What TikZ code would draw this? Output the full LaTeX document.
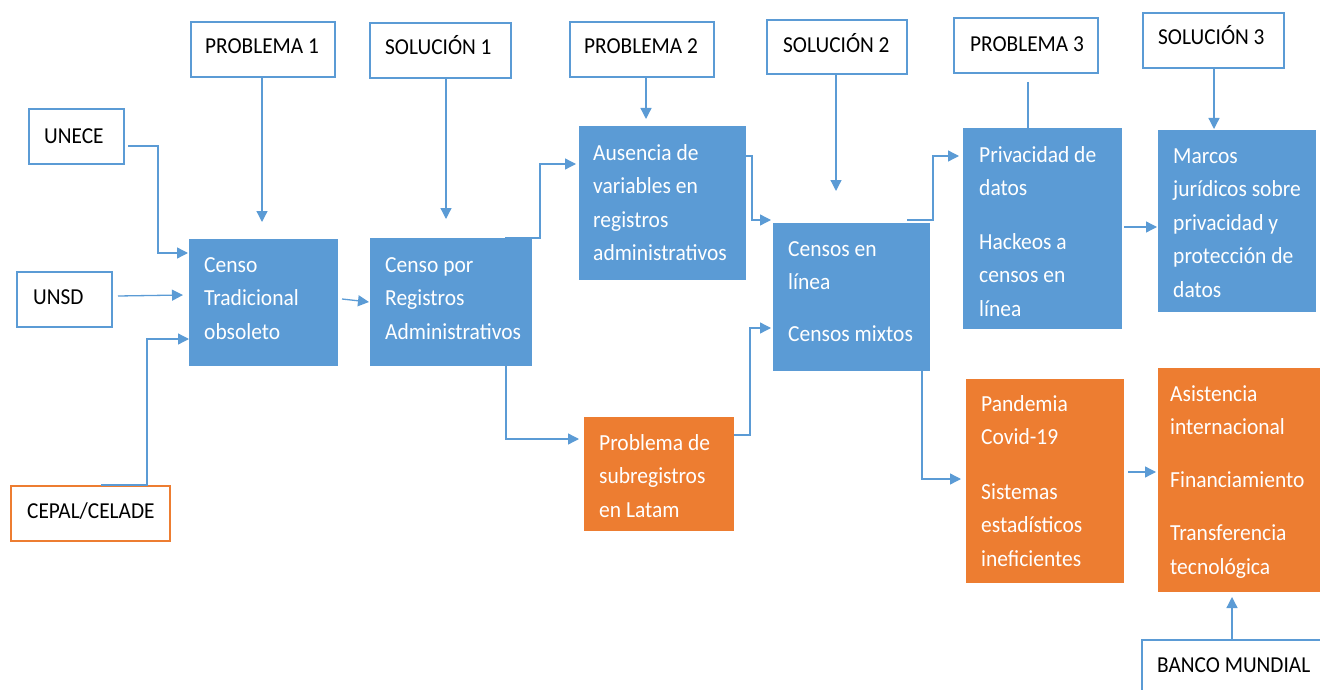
\documentclass[tikz,border=0pt]{standalone}
\usepackage{fontspec}
\setmainfont{Carlito}[FakeStretch=0.935]
\usetikzlibrary{arrows.meta,calc}
\definecolor{obl}{HTML}{5B9BD5}
\definecolor{oor}{HTML}{ED7D31}
\tikzset{
  wbox/.style={draw=obl, line width=1.3pt, fill=white, inner sep=0pt, outer sep=0pt},
  wobox/.style={draw=oor, line width=1.3pt, fill=white, inner sep=0pt, outer sep=0pt},
  bbox/.style={fill=obl, inner sep=0pt, outer sep=0pt},
  obox/.style={fill=oor, inner sep=0pt, outer sep=0pt},
  wtxt/.style={anchor=base west, inner sep=0pt, text=black, font=\fontsize{22.8}{26}\selectfont},
  btxt/.style={anchor=north west, inner sep=0pt, align=left, text=white, font=\fontsize{23}{33.5}\selectfont},
  arr/.style={draw=obl, line width=1.3pt, -{Triangle[length=11pt,width=11pt]}},
  ln/.style={draw=obl, line width=1.3pt},
}
\begin{document}
\begin{tikzpicture}[x=1pt,y=-1pt]
\useasboundingbox (0,0) rectangle (1320,690);
\clip (0,0) rectangle (1320,690);
% white boxes
\node[wbox, minimum width=144, minimum height=55] (p1) at (263,49.5) {};
\node[wbox, minimum width=141, minimum height=55] (s1) at (440.5,50.5) {};
\node[wbox, minimum width=144, minimum height=55] (p2) at (642,49.5) {};
\node[wbox, minimum width=140, minimum height=54] (s2) at (837,47) {};
\node[wbox, minimum width=144, minimum height=55] (p3) at (1026,45.5) {};
\node[wbox, minimum width=141, minimum height=55] (s3) at (1213.5,40.5) {};
\node[wbox, minimum width=95, minimum height=55] (unece) at (76.5,136.5) {};
\node[wbox, minimum width=95, minimum height=55] (unsd) at (64.5,299.5) {};
\node[wobox, minimum width=159, minimum height=55] (cepal) at (90.5,513.5) {};
\node[wbox, minimum width=188, minimum height=60] (banco) at (1236,670) {};
\node[wtxt] (p1t) at (205,54) {PROBLEMA 1};
\node[wtxt] (s1t) at (385,55) {SOLUCIÓN 1};
\node[wtxt] (p2t) at (584,54) {PROBLEMA 2};
\node[wtxt] (s2t) at (783,53) {SOLUCIÓN 2};
\node[wtxt] (p3t) at (970,52) {PROBLEMA 3};
\node[wtxt] (s3t) at (1158,45) {SOLUCIÓN 3};
\node[wtxt] (unecet) at (44,143) {UNECE};
\node[wtxt] (unsdt) at (33,304) {UNSD};
\node[wtxt] (cepalt) at (27,518) {CEPAL/CELADE};
\node[wtxt] (bancot) at (1157,672) {BANCO MUNDIAL};
% coloured boxes
\node[bbox, minimum width=149, minimum height=127] (censo) at (263.5,302.5) {};
\node[bbox, minimum width=162, minimum height=128] (registros) at (451,302) {};
\node[bbox, minimum width=167, minimum height=154] (ausencia) at (662.5,203) {};
\node[bbox, minimum width=157, minimum height=148] (censos) at (851.5,297) {};
\node[bbox, minimum width=159, minimum height=201] (privacidad) at (1042.5,228.5) {};
\node[bbox, minimum width=158, minimum height=182] (marcos) at (1237,221) {};
\node[obox, minimum width=150, minimum height=114] (subreg) at (659,474) {};
\node[obox, minimum width=158, minimum height=204] (pandemia) at (1045,481) {};
\node[obox, minimum width=164, minimum height=224] (asist) at (1240,480) {};
\node[btxt] (censot) at (204,248.5) {\strut Censo\\Tradicional\\obsoleto};
\node[btxt] (registrost) at (385,248.5) {\strut Censo por\\Registros\\Administrativos};
\node[btxt] (ausenciat) at (593,136.5) {\strut Ausencia de\\variables en\\registros\\administrativos};
\node[btxt] (censost) at (788,232.5) {\strut Censos en\\línea\\[18.5pt]Censos mixtos};
\node[btxt] (privacidadt) at (979,138.5) {\strut Privacidad de\\datos\\[20pt]Hackeos a\\censos en\\línea};
\node[btxt] (marcost) at (1173,139.5) {\strut Marcos\\jurídicos sobre\\privacidad y\\protección de\\datos};
\node[btxt] (subregt) at (599,426.5) {\strut Problema de\\subregistros\\en Latam};
\node[btxt] (pandemiat) at (981,387.5) {\strut Pandemia\\Covid-19\\[21pt]Sistemas\\estadísticos\\ineficientes};
\node[btxt] (asistt) at (1170,377.5) {\strut Asistencia\\internacional\\[19pt]Financiamiento\\[20pt]Transferencia\\tecnológica};
% connectors
\draw[arr] ([shift={(4,9.5)}]unece.east) -| ([shift={(-31,-49.5)}]censo.west) -- ([shift={(-1,-49.5)}]censo.west);
\draw[arr] ([shift={(6,-3.5)}]unsd.east) -- ([shift={(-6,-7.5)}]censo.west);
\draw[arr] ([shift={(10.5,-1)}]cepal.north) -| ([shift={(-42,36.5)}]censo.west) -- ([shift={(0,36.5)}]censo.west);
\draw[arr] ([shift={(-1,0)}]p1.south) -- ([shift={(-1.5,-17)}]censo.north);
\draw[arr] ([shift={(4,-3.5)}]censo.east) -- ([shift={(-1,0)}]registros.west);
\draw[arr] ([shift={(5.5,0)}]s1.south) -- ([shift={(-5,-19)}]registros.north);
\draw[arr] ([shift={(-27,0)}]registros.north east) -- ++(35,0) |- ([shift={(-3,-39)}]ausencia.west);
\draw[arr] ([shift={(4,0)}]p2.south) -- ([shift={(-16.5,-7)}]ausencia.north);
\draw[arr] ([shift={(55,0)}]registros.south) |- ([shift={(-5,-35)}]subreg.west);
\draw[arr] ([shift={(0,-39)}]subreg.east) -- ++(16,0) |- ([shift={(-2,31)}]censos.west);
\draw[arr] ([shift={(0,-47)}]ausencia.east) -- ++(6,0) |- ([shift={(-2,-77)}]censos.west);
\draw[arr] ([shift={(-1,0)}]s2.south) -- ([shift={(-15.5,-32)}]censos.north);
\draw[arr] ([shift={(-23,-3)}]censos.north east) -- ++(26,0) |- ([shift={(-4,-72.5)}]privacidad.west);
\draw[ln] ([shift={(2,9)}]p3.south) -- ([shift={(-14.5,0)}]privacidad.north);
\draw[arr] ([shift={(0.5,0)}]s3.south) -- ([shift={(-23,-1)}]marcos.north);
\draw[arr] ([shift={(2,-1.5)}]privacidad.east) -- ([shift={(-1,6)}]marcos.west);
\draw[arr] ([shift={(70.5,0)}]censos.south) |- ([shift={(-5,-2)}]pandemia.west);
\draw[arr] ([shift={(4,-9)}]pandemia.east) -- ([shift={(-2,-8)}]asist.west);
\draw[arr] ([shift={(-4,0)}]banco.north) -- ([shift={(-8,5)}]asist.south);
\end{tikzpicture}
\end{document}
